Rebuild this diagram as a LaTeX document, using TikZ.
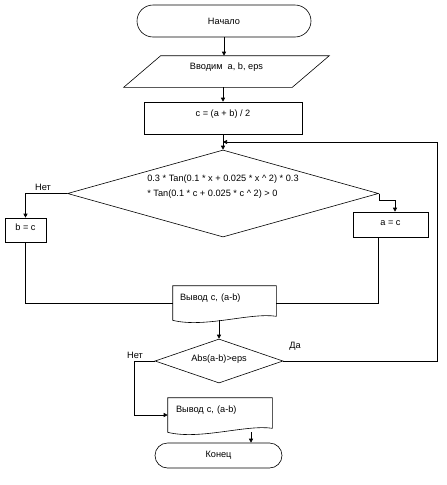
\documentclass[tikz,border=0pt]{standalone}
\usepackage{fontspec}
\setmainfont{Liberation Sans}
\usetikzlibrary{shapes.geometric, shapes.misc, arrows.meta, positioning, calc}

\begin{document}
\begin{tikzpicture}[
        x=1pt, y=-1pt,
        term/.style={draw, rounded rectangle, minimum width=174pt, minimum height=32pt, inner sep=0pt},
        block/.style={draw, minimum width=158pt, minimum height=32pt, inner sep=0pt, text height=7pt},
        io/.style={minimum width=168pt, minimum height=31pt, inner sep=0pt, text height=7pt},
        doc/.style={minimum width=103pt, minimum height=34pt, inner sep=0pt, text width=89pt, align=left, text height=7pt, text depth=12.4pt},
        decision/.style={draw, diamond, inner sep=0pt, align=center},
        answer/.style={inner sep=1pt},
        arrow/.style={-{Triangle[length=4pt, width=4pt]}},
        every node/.style={font=\fontsize{9.2}{11}\selectfont},
        line width=0.6pt
    ]
    \useasboundingbox (0,0) rectangle (447,485);

    % Start and input
    \node[term] (start) at (224, 21) {Начало};
    \node[io, text depth=11.4pt] (input) at (226.5, 71.5) {Вводим\ \ a, b, eps};
    \draw ([xshift=-18.5pt]input.south west) -- ([xshift=18.5pt]input.north west)
        -- ([xshift=18.5pt]input.north east) -- ([xshift=-18.5pt]input.south east) -- cycle;
    \node[block, text depth=10.4pt] (calc) at (223, 118) {c = (a + b) / 2};

    % Sign test
    \node[decision, align=left, aspect=3.57, minimum width=311pt, minimum height=87pt, font=\fontsize{9.2}{15}\selectfont] (cond) at (223, 193.5)
        {0.3 * Tan(0.1 * x + 0.025 * x \textasciicircum{} 2) * 0.3\\{}* Tan(0.1 * c + 0.025 * c \textasciicircum{} 2) > 0\\\mbox{}};
    \node[block, minimum width=41pt, minimum height=24pt, text depth=6.4pt] (bc) at (25.5, 230) {b = c};
    \node[block, minimum width=75pt, minimum height=25pt, text depth=5.4pt] (ac) at (390.5, 224.5) {a = c};

    % Output and stop test
    \node[doc] (out1) at (224.5, 303) {Вывод c, (a-b)};
    \draw (out1.north west) -- (out1.north east) -- ([yshift=4pt]out1.south east)
        .. controls ([xshift=-26pt, yshift=8pt]out1.south east) and ([xshift=32pt, yshift=-8pt]out1.south west) .. (out1.south west) -- cycle;
    \node[decision, aspect=2.9, minimum width=128pt, minimum height=44pt, text height=7pt, text depth=6.4pt] (check) at (219, 361) {Abs(a-b)>eps};
    \node[doc, minimum width=104pt, text width=88pt] (out2) at (220, 415) {Вывод c, (a-b)};
    \draw (out2.north west) -- (out2.north east) -- ([yshift=4pt]out2.south east)
        .. controls ([xshift=-26pt, yshift=8pt]out2.south east) and ([xshift=32pt, yshift=-8pt]out2.south west) .. (out2.south west) -- cycle;
    \node[term, minimum width=127pt, minimum height=25pt] (finish) at (218.5, 455.5) {Конец};

    % Answers
    \node[answer] (no1) at (43, 187) {Нет};
    \node[answer] (yes) at (295, 346) {Да};
    \node[answer] (no2) at (135, 355) {Нет};

    % Main line
    \draw[arrow] (start.south) -- (start.south |- input.north);
    \draw[arrow] (input.south -| calc.north) -- (calc.north);
    \draw[arrow] (calc.south) -- (cond.north);

    % Branches
    \draw[arrow] (cond.west) -| (bc.north);
    \draw[arrow] (cond.east) -- ++(0,7) -| ([xshift=4.5pt]ac.north);
    \draw (bc.south) |- (out1.west);
    \draw ([xshift=-12.5pt]ac.south) |- (out1.east);
    \draw[arrow] (out1.south -| check.north) -- (check.north);

    % Loop back
    \coordinate (join) at (223, 142);
    \coordinate (loop) at (437, 142);
    \draw[arrow] (check.east) -| (loop) -- (join);

    % Exit
    \draw[arrow] (check.west) -- ++(-20,0) |- (out2.west);
    \draw[arrow] ([xshift=31pt]out2.south) -- ([xshift=31pt]out2.south |- finish.north);

\end{tikzpicture}
\end{document}
